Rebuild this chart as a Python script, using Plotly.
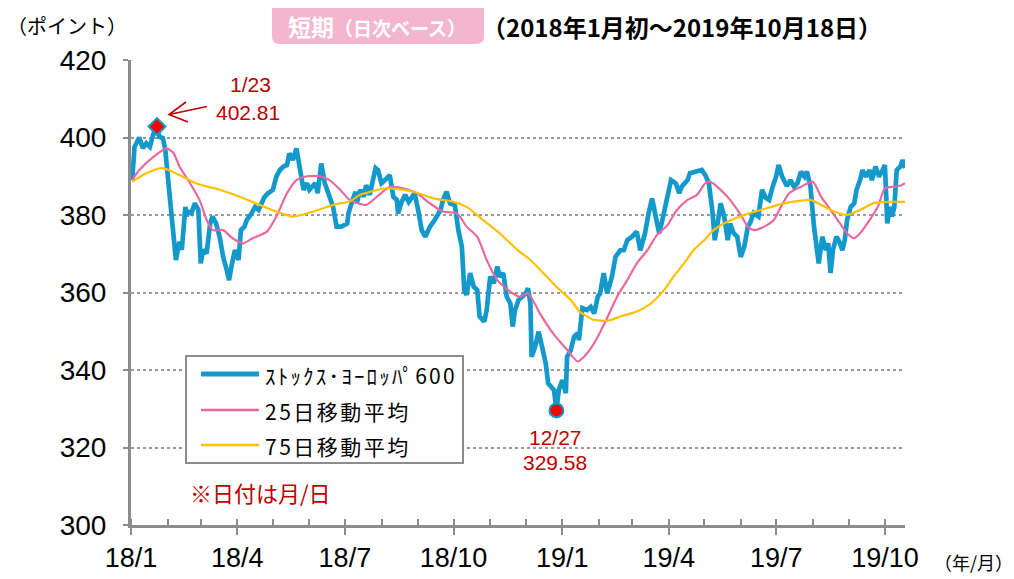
import plotly.graph_objects as go
import pandas as pd

BASE = pd.Timestamp("2018-01-01")

# STOXX Europe 600 (daily) - day number since 2018-01-01
stoxx_days = [1, 3, 7, 10, 13, 16, 19, 22, 24, 27, 29, 31, 34, 37, 38, 41, 43, 46, 47, 48,
              51, 54, 57, 59, 61, 64, 67, 69, 72, 75, 78, 81, 83, 85, 88, 91, 93, 96, 98, 102,
              105, 108, 111, 113, 116, 120, 123, 126, 129, 132, 134, 137, 140, 143, 146, 149, 151, 156, 158, 161,
              164, 167, 171, 174, 178, 183, 184, 187, 190, 191, 194, 197, 199, 202, 204, 207, 209, 212, 215, 219,
              222, 225, 226, 229, 232, 235, 238, 240, 243, 246, 249, 253, 257, 262, 264, 267, 270, 274, 277, 280,
              282, 284, 287, 290, 293, 295, 299, 301, 304, 307, 310, 312, 315, 318, 321, 323, 325, 328, 331, 334,
              336, 338, 339, 342, 345, 348, 351, 353, 358, 360, 362, 365, 368, 369, 372, 375, 378, 379, 382, 386,
              389, 392, 395, 397, 400, 403, 407, 410, 414, 417, 420, 424, 428, 431, 435, 438, 441, 444, 447, 449,
              452, 455, 457, 461, 464, 466, 471, 473, 479, 483, 486, 489, 492, 494, 496, 499, 502, 505, 507, 510,
              513, 516, 519, 522, 524, 527, 531, 534, 537, 540, 543, 546, 548, 551, 555, 558, 561, 564, 567, 570,
              572, 575, 578, 581, 582, 585, 588, 590, 592, 594, 597, 600, 602, 604, 606, 609, 612, 614, 617, 619,
              622, 625, 627, 630, 633, 636, 638, 640, 642, 644, 646, 648, 651, 653, 655]
stoxx_vals = [389.0, 397.6, 400.0, 397.3, 398.5, 397.6, 401.0, 402.81, 400.2, 399.8, 396.8, 390.8, 381.3, 371.0, 368.4, 373.1, 371.0, 382.1, 379.6, 380.9,
              380.4, 383.0, 381.3, 367.5, 371.0, 370.1, 377.8, 379.6, 377.8, 374.4, 369.2, 365.8, 363.2, 366.7, 371.0, 368.4, 376.1, 377.0, 378.7, 380.4,
              382.1, 381.3, 383.0, 384.7, 385.6, 386.5, 389.9, 391.6, 392.5, 392.9, 395.9, 394.2, 397.2, 391.6, 386.5, 388.2, 386.5, 388.2, 385.6, 393.3,
              388.2, 385.6, 382.1, 377.0, 377.0, 377.8, 380.4, 383.4, 386.0, 383.0, 386.5, 384.7, 387.7, 385.2, 388.2, 392.1, 391.6, 388.2, 389.0, 390.3,
              384.7, 383.9, 380.4, 383.4, 385.2, 383.4, 384.7, 385.6, 381.3, 376.1, 374.4, 377.0, 378.7, 381.3, 383.9, 386.0, 383.0, 382.6, 376.1, 371.8,
              360.6, 359.4, 365.0, 361.5, 360.6, 353.8, 352.5, 355.5, 364.1, 362.4, 366.7, 364.1, 365.0, 358.9, 357.2, 351.2, 355.5, 358.1, 358.9, 359.8,
              361.1, 357.2, 343.4, 346.0, 349.9, 346.0, 341.7, 336.6, 334.8, 329.58, 334.8, 337.4, 334.0, 343.4, 345.0, 348.6, 349.5, 347.7, 356.0, 355.5,
              356.3, 354.6, 358.9, 359.8, 365.0, 359.8, 364.1, 369.2, 370.9, 370.9, 373.5, 374.4, 375.7, 370.9, 375.3, 380.4, 384.3, 379.6, 375.3, 377.8,
              382.1, 385.6, 389.0, 388.2, 385.6, 387.3, 389.0, 390.8, 391.2, 391.6, 390.3, 388.2, 381.0, 373.5, 377.0, 383.0, 379.6, 373.5, 377.8, 375.3,
              374.4, 369.2, 371.8, 377.0, 378.0, 380.5, 379.6, 386.5, 384.5, 383.9, 387.3, 390.0, 392.9, 389.9, 387.5, 389.0, 387.3, 388.2, 391.2, 389.9,
              391.2, 387.3, 377.0, 370.9, 367.5, 374.4, 370.9, 372.7, 365.0, 370.9, 374.4, 372.7, 370.9, 373.5, 378.7, 382.1, 383.0, 386.5, 389.0, 391.6,
              389.9, 391.6, 389.0, 392.5, 389.9, 391.6, 392.9, 377.8, 382.1, 379.6, 382.1, 391.6, 392.5, 394.2, 392.1]

# 25-day moving average
ma25_days = [1, 7, 19, 30, 36, 41, 50, 58, 64, 69, 78, 86, 95, 103, 115, 123, 132, 140, 149, 160,
             168, 177, 185, 199, 208, 219, 230, 242, 253, 264, 276, 284, 293, 301, 310, 321, 329, 336, 346, 357,
             369, 378, 386, 395, 403, 412, 420, 428, 437, 445, 454, 462, 471, 479, 486, 490, 499, 507, 516, 522,
             527, 536, 544, 550, 557, 567, 577, 584, 589, 598, 606, 612, 617, 625, 632, 638, 646, 652, 655]
ma25_vals = [389.0, 391.6, 395.0, 397.2, 396.0, 392.5, 388.2, 383.9, 378.7, 376.1, 376.1, 374.0, 372.7, 374.0, 375.7, 379.6, 385.6, 389.0, 390.0, 390.0,
             389.0, 386.5, 383.9, 382.6, 384.7, 387.3, 386.9, 385.6, 383.0, 380.9, 380.4, 377.0, 374.4, 368.4, 363.2, 360.2, 358.9, 359.8, 354.6, 349.5,
             345.2, 342.2, 344.3, 348.6, 353.5, 359.3, 363.2, 367.5, 370.9, 374.8, 377.4, 381.3, 383.9, 385.2, 388.2, 388.6, 386.5, 383.9, 380.0, 377.0,
             376.1, 377.0, 378.7, 382.1, 385.6, 387.3, 388.6, 384.7, 382.6, 378.7, 375.3, 374.0, 375.3, 378.7, 382.1, 386.9, 387.3, 387.7, 388.2]

# 75-day moving average
ma75_days = [1, 13, 27, 41, 55, 75, 92, 109, 123, 137, 149, 160, 174, 185, 194, 216, 239, 256, 273, 284,
             298, 312, 327, 338, 349, 360, 372, 380, 391, 403, 414, 428, 440, 451, 459, 468, 476, 485, 493, 505,
             516, 533, 550, 567, 575, 584, 595, 606, 617, 628, 640, 655]
ma75_vals = [388.6, 390.8, 392.1, 390.3, 388.2, 386.5, 384.7, 382.6, 380.9, 379.6, 380.4, 381.5, 382.8, 383.5, 385.2, 386.9, 386.0, 384.3, 383.4, 382.1,
             378.7, 375.3, 371.0, 368.4, 365.0, 361.5, 358.1, 355.0, 353.0, 352.7, 353.8, 355.1, 357.2, 360.6, 364.1, 367.5, 370.9, 373.5, 376.1, 378.3,
             379.7, 381.3, 382.8, 383.7, 383.9, 382.6, 380.9, 380.0, 381.3, 383.0, 383.4, 383.4]

high_date, high_val = "2018-01-23", 402.81
low_date, low_val = "2018-12-27", 329.58

tick_dates = ["2018-01-01", "2018-04-01", "2018-07-01", "2018-10-01",
              "2019-01-01", "2019-04-01", "2019-07-01", "2019-10-01"]
tick_labels = ["18/1", "18/4", "18/7", "18/10", "19/1", "19/4", "19/7", "19/10"]
y_ticks = [300, 320, 340, 360, 380, 400, 420]

series_names = ["ｽﾄｯｸｽ･ﾖｰﾛｯﾊﾟ600", "25日移動平均", "75日移動平均"]


def to_dates(days):
    return [BASE + pd.Timedelta(days=d) for d in days]


BLUE = "#1499CC"
PINK = "#E9689D"
YELLOW = "#FFC000"
DARKRED = "#C00000"
GRAY = "#8C8C8C"
JP = "Noto Sans CJK JP, sans-serif"
NUM = "Liberation Sans, Arial, sans-serif"

series_colors = [BLUE, PINK, YELLOW]
series_widths = [4.7, 2.2, 2.2]

fig = go.Figure()
fig.add_trace(go.Scatter(x=to_dates(stoxx_days), y=stoxx_vals, mode="lines",
                         name=series_names[0], showlegend=False,
                         line=dict(color=BLUE, width=series_widths[0])))
fig.add_trace(go.Scatter(x=to_dates(ma25_days), y=ma25_vals, mode="lines",
                         name=series_names[1], showlegend=False,
                         line=dict(color=PINK, width=series_widths[1], shape="spline", smoothing=0.6)))
fig.add_trace(go.Scatter(x=to_dates(ma75_days), y=ma75_vals, mode="lines",
                         name=series_names[2], showlegend=False,
                         line=dict(color=YELLOW, width=series_widths[2], shape="spline", smoothing=0.6)))
fig.add_trace(go.Scatter(x=[high_date], y=[high_val], mode="markers", showlegend=False,
                         marker=dict(symbol="diamond", size=13, color="#FF0000",
                                     line=dict(color=BLUE, width=2))))
fig.add_trace(go.Scatter(x=[low_date], y=[low_val], mode="markers", showlegend=False,
                         marker=dict(symbol="circle", size=14, color="#FF0000",
                                     line=dict(color=BLUE, width=2))))

# target plot area on screen: x 131..905, y 60..525 (page body adds an 8px offset)
def px(x):
    return (x - 131) / 774.0


def py(y):
    return (525 - y) / 465.0


annotations = [
    dict(text="（ポイント）", x=px(67), y=py(25), font=dict(size=20, color="black", family=JP)),
    dict(text="<b>短期<span style='font-size:19px'>（日次ベース）</span></b>", x=px(377), y=py(26),
         font=dict(size=23, color="white", family=JP)),
    dict(text="<b>（2018年1月初～2019年10月18日）</b>", x=px(682), y=py(26),
         font=dict(size=24, color="black", family=JP)),
    dict(text="1/23", x=px(250), y=py(85), font=dict(size=21, color=DARKRED, family=NUM)),
    dict(text="402.81", x=px(248), y=py(112), font=dict(size=21, color=DARKRED, family=NUM)),
    dict(text="12/27", x=px(555), y=py(437), font=dict(size=21, color=DARKRED, family=NUM)),
    dict(text="329.58", x=px(555), y=py(462), font=dict(size=21, color=DARKRED, family=NUM)),
    dict(text="※日付は月/日", x=px(188), y=py(492), xanchor="left",
         font=dict(size=22, color=DARKRED, family=JP)),
    dict(text="（年/月）", x=px(973), y=py(562), font=dict(size=18, color="black", family=JP)),
]

# legend (drawn as a boxed key inside the plot)
legend_rows = [374, 410, 445]
legend_spacing = [2.2, 2.5, 2.5]
shapes = [
    dict(type="rect", xref="paper", yref="paper", x0=px(186), x1=px(463), y0=py(356), y1=py(463),
         fillcolor="white", line=dict(color=GRAY, width=2)),
]
for name, color, width, row, ls in zip(series_names, series_colors, series_widths,
                                         legend_rows, legend_spacing):
    shapes.append(dict(type="line", xref="paper", yref="paper", x0=px(201), x1=px(259),
                       y0=py(row), y1=py(row), line=dict(color=color, width=width + 0.5)))
    annotations.append(dict(text=f"<span style='letter-spacing:{ls}px'>{name}</span>",
                            x=px(263), y=py(row + 1), xanchor="left",
                            font=dict(size=21, color="black", family=JP)))

for a in annotations:
    a.update(xref="paper", yref="paper", showarrow=False)
    a.setdefault("xanchor", "center")
    a["yanchor"] = "middle"

# title pink box (rounded), arrow
x0, x1, y0, y1 = px(272), px(484), py(-4), py(44)
rx, ry = 8 / 774.0, 8 / 465.0
box_path = (f"M {x0+rx},{y0} L {x1-rx},{y0} Q {x1},{y0} {x1},{y0-ry} "
            f"L {x1},{y1+ry} Q {x1},{y1} {x1-rx},{y1} L {x0+rx},{y1} "
            f"Q {x0},{y1} {x0},{y1+ry} L {x0},{y0-ry} Q {x0},{y0} {x0+rx},{y0} Z")
arrow_path = (f"M {px(207)},{py(106.5)} L {px(169)},{py(114.5)} "
              f"M {px(186)},{py(102)} L {px(169)},{py(114.5)} L {px(188)},{py(122)}")
shapes += [
    dict(type="path", path=box_path, xref="paper", yref="paper",
         fillcolor="#F4B5CE", line=dict(width=0), layer="below"),
    dict(type="path", path=arrow_path, xref="paper", yref="paper",
         line=dict(color=DARKRED, width=1.6)),
]

fig.update_layout(
    width=1014, height=579,
    margin=dict(l=123, r=117, t=52, b=62, autoexpand=False),
    paper_bgcolor="white", plot_bgcolor="white",
    showlegend=False,
    annotations=annotations,
    shapes=shapes,
    font=dict(family=NUM, color="black"),
)
fig.update_xaxes(
    type="date", range=["2018-01-01", "2019-10-18"],
    tickvals=tick_dates, ticktext=tick_labels,
    tickfont=dict(size=27, family=NUM, color="black"),
    showgrid=False, showline=True, linecolor=GRAY, linewidth=3,
    ticks="outside", ticklen=7, tickwidth=2, tickcolor=GRAY,
    minor=dict(ticks="inside", dtick="M1", tick0="2018-01-01", ticklen=6,
               tickwidth=2, tickcolor=GRAY, showgrid=False),
    zeroline=False, automargin=False,
)
fig.update_yaxes(
    range=[300, 420], tickvals=y_ticks,
    tickfont=dict(size=28, family=NUM, color="black"),
    showgrid=True, gridcolor="#9A9A9A", griddash="dot", gridwidth=1.5,
    showline=True, linecolor=GRAY, linewidth=3,
    ticks="outside", ticklen=5, tickwidth=2, tickcolor=GRAY,
    ticklabelstandoff=11, zeroline=False, automargin=False,
)

fig.write_html("out.html")
